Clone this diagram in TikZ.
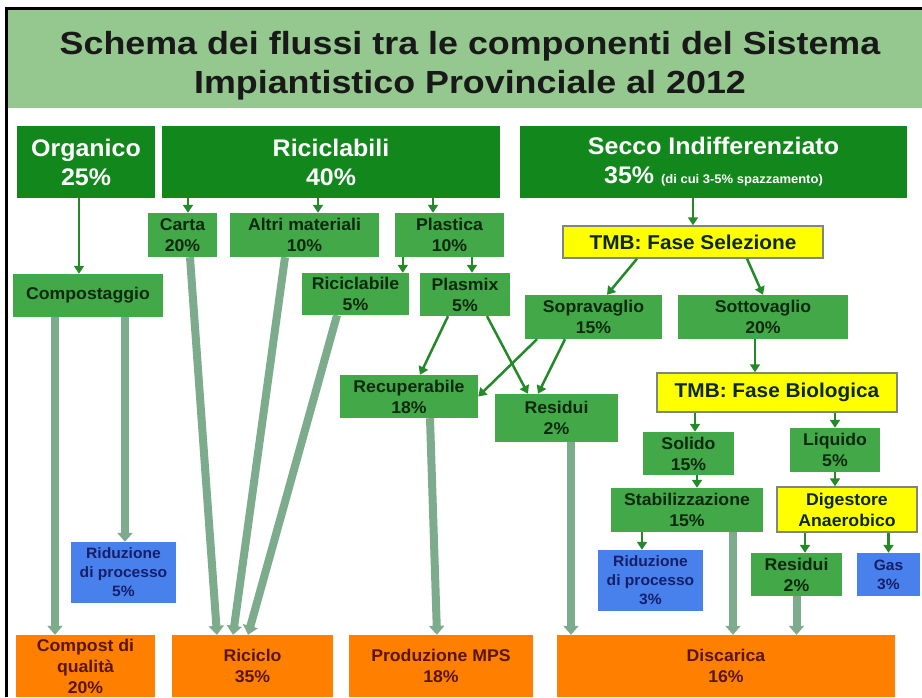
\documentclass[tikz,border=0pt]{standalone}
\usepackage{fontspec}
\setmainfont[FakeStretch=1.04]{Liberation Sans}
\newfontfamily\titlefont[FakeStretch=1.12]{Liberation Sans}
\usetikzlibrary{arrows.meta}
\definecolor{titlegreen}{RGB}{148,200,142}
\definecolor{hdgreen}{RGB}{18,136,28}
\definecolor{subgreen}{RGB}{66,168,72}
\definecolor{subtext}{RGB}{12,40,14}
\definecolor{tmbyellow}{RGB}{255,255,0}
\definecolor{tmbgray}{RGB}{125,135,125}
\definecolor{lossblue}{RGB}{72,128,236}
\definecolor{lossnavy}{RGB}{22,30,105}
\definecolor{endorange}{RGB}{255,128,0}
\definecolor{endbrown}{RGB}{88,22,10}
\definecolor{massgray}{RGB}{125,172,140}
\definecolor{flowgreen}{RGB}{36,138,40}
\begin{document}
\begin{tikzpicture}[x=1pt,y=-1pt,
    box/.style={rectangle, inner sep=0pt, align=center},
    mainbox/.style={box, fill=hdgreen, text=white, font=\fontsize{24}{29}\selectfont\bfseries},
    subbox/.style={box, fill=subgreen, text=subtext, font=\fontsize{17}{21}\selectfont\bfseries},
    tmbbox/.style={box, fill=tmbyellow, draw=tmbgray, line width=1.5pt, text=subtext, font=\fontsize{20}{22}\selectfont\bfseries},
    lossbox/.style={box, fill=lossblue, text=lossnavy, font=\fontsize{15}{19}\selectfont\bfseries},
    endbox/.style={box, fill=endorange, text=endbrown, font=\fontsize{17}{21}\selectfont\bfseries},
    thinarrow/.style={flowgreen, line width=2.5pt, -{Triangle[width=10pt,length=8pt]}},
    bigarrow/.style={massgray, line width=8pt, -{Triangle[width=15pt,length=9pt]}}]
    \useasboundingbox (0,0) rectangle (922,697);
    \fill[white] (0,0) rectangle (922,697);
    \fill[black] (5,7) rectangle (922,9.5);
    \fill[black] (5,7) rectangle (8,697);
    \fill[titlegreen] (8,9.5) rectangle (922,108);

    \node[box, font=\titlefont\fontsize{32}{39}\selectfont\bfseries, text=black!90] (title) at (470,66)
        {Schema dei flussi tra le componenti del Sistema\\Impiantistico Provinciale al 2012};

    \node[mainbox, minimum width=138, minimum height=72] (org) at (86,162) {Organico\\25\%};
    \node[mainbox, minimum width=338, minimum height=72] (ric) at (331,162) {Riciclabili\\40\%};
    \node[mainbox, minimum width=387, minimum height=72] (sec) at (713.5,162)
        {Secco Indifferenziato\\35\% {\fontsize{12.5}{14}\selectfont(di cui 3-5\% spazzamento)}};

    \node[subbox, minimum width=69, minimum height=44] (car) at (182.5,235) {Carta\\20\%};
    \node[subbox, minimum width=149, minimum height=44] (alt) at (304.5,235) {Altri materiali\\10\%};
    \node[subbox, minimum width=109, minimum height=44] (pla) at (449.5,235) {Plastica\\10\%};
    \node[subbox, minimum width=107, minimum height=42] (rcb) at (355.5,294) {Riciclabile\\5\%};
    \node[subbox, minimum width=90, minimum height=43] (pmx) at (465,294.5) {Plasmix\\5\%};
    \node[subbox, minimum width=150, minimum height=43] (cmp) at (88,295.5) {Compostaggio};
    \node[tmbbox, minimum width=260, minimum height=32] (sel) at (693,242) {TMB: Fase Selezione};
    \node[subbox, minimum width=137, minimum height=44] (sop) at (593.5,317) {Sopravaglio\\15\%};
    \node[subbox, minimum width=170, minimum height=44] (sot) at (763,317) {Sottovaglio\\20\%};
    \node[subbox, minimum width=138, minimum height=43] (rec) at (409,396.5) {Recuperabile\\18\%};
    \node[subbox, minimum width=123, minimum height=48] (res) at (556.5,418) {Residui\\2\%};
    \node[tmbbox, minimum width=240, minimum height=39] (bio) at (777,392.5) {TMB: Fase Biologica};
    \node[subbox, minimum width=91, minimum height=43] (sol) at (688.5,453.5) {Solido\\15\%};
    \node[subbox, minimum width=90, minimum height=44] (liq) at (835,450) {Liquido\\5\%};
    \node[subbox, minimum width=152, minimum height=44] (sta) at (687,510) {Stabilizzazione\\15\%};
    \node[tmbbox, font=\fontsize{17}{21}\selectfont\bfseries, minimum width=140, minimum height=45] (dig) at (847,509.5) {Digestore\\Anaerobico};
    \node[lossbox, minimum width=105, minimum height=61] (rdb) at (650.5,580.5) {Riduzione\\di processo\\3\%};
    \node[subbox, minimum width=91, minimum height=43] (rs2) at (796.5,574.5) {Residui\\2\%};
    \node[lossbox, minimum width=63, minimum height=43] (gas) at (888.5,574.5) {Gas\\3\%};
    \node[lossbox, minimum width=105, minimum height=61] (rda) at (123.5,572.5) {Riduzione\\di processo\\5\%};

    \node[endbox, minimum width=139, minimum height=62] (cpq) at (85.5,666) {Compost di\\qualità\\20\%};
    \node[endbox, minimum width=161, minimum height=62] (rcl) at (252.5,666) {Riciclo\\35\%};
    \node[endbox, minimum width=184, minimum height=62] (mps) at (441,666) {Produzione MPS\\18\%};
    \node[endbox, minimum width=338, minimum height=62] (dis) at (726,666) {Discarica\\16\%};

    \draw[thinarrow] ([xshift=-7]org.south) -- ([xshift=-7]org.south |- cmp.north);
    \draw[thinarrow] ([xshift=5.5]car.north |- ric.south) -- ([xshift=5.5]car.north);
    \draw[thinarrow] ([xshift=13.5]alt.north |- ric.south) -- ([xshift=13.5]alt.north);
    \draw[thinarrow] ([xshift=-16.5]pla.north |- ric.south) -- ([xshift=-16.5]pla.north);
    \draw[thinarrow] ([xshift=8]pla.south west) -- ([xshift=8]pla.south west |- rcb.north);
    \draw[thinarrow] ([xshift=7]pmx.north |- pla.south) -- ([xshift=7]pmx.north);
    \draw[thinarrow] (sel.north |- sec.south) -- (sel.north);
    \draw[thinarrow] ([xshift=-56]sel.south) -- ([xshift=13.5]sop.north);
    \draw[thinarrow] ([xshift=54]sel.south) -- (sot.north);
    \draw[thinarrow] ([xshift=-8]sot.south) -- ([xshift=-8]sot.south |- bio.north);
    \draw[thinarrow] ([xshift=-17]pmx.south) -- ([xshift=11]rec.north);
    \draw[thinarrow] ([xshift=22]pmx.south) -- ([xshift=-28.5]res.north);
    \draw[thinarrow] ([xshift=-56.5]sop.south) -- (rec.east);
    \draw[thinarrow] ([xshift=-28.5]sop.south) -- ([xshift=-18.5]res.north);
    \draw[thinarrow] ([xshift=6.5]sol.north |- bio.south) -- ([xshift=6.5]sol.north);
    \draw[thinarrow] (liq.north |- bio.south) -- (liq.north);
    \draw[thinarrow] ([xshift=8.5]sol.south) -- ([xshift=8.5]sol.south |- sta.north);
    \draw[thinarrow] (liq.south) -- (liq.south |- dig.north);
    \draw[thinarrow] ([xshift=-8.5]rdb.north |- sta.south) -- ([xshift=-8.5]rdb.north);
    \draw[thinarrow] ([xshift=8.5]rs2.north |- dig.south) -- ([xshift=8.5]rs2.north);
    \draw[thinarrow] (gas.north |- dig.south) -- (gas.north);

    \draw[bigarrow] ([xshift=-33]cmp.south) -- ([xshift=-33]cmp.south |- cpq.north);
    \draw[bigarrow] ([xshift=37]cmp.south) -- ([xshift=37]cmp.south |- rda.north);
    \draw[bigarrow] ([xshift=7.5]car.south) -- ([xshift=-35.5]rcl.north);
    \draw[bigarrow] ([xshift=-19.5]alt.south) -- ([xshift=-19.5]rcl.north);
    \draw[bigarrow] ([xshift=-18.5]rcb.south) -- ([xshift=-4.5]rcl.north);
    \draw[bigarrow] ([xshift=21]rec.south) -- ([xshift=-4]mps.north);
    \draw[bigarrow] ([xshift=14.5]res.south) -- ([xshift=14.5]res.south |- dis.north);
    \draw[bigarrow] ([xshift=46]sta.south) -- ([xshift=46]sta.south |- dis.north);
    \draw[bigarrow] (rs2.south) -- (rs2.south |- dis.north);
\end{tikzpicture}
\end{document}
